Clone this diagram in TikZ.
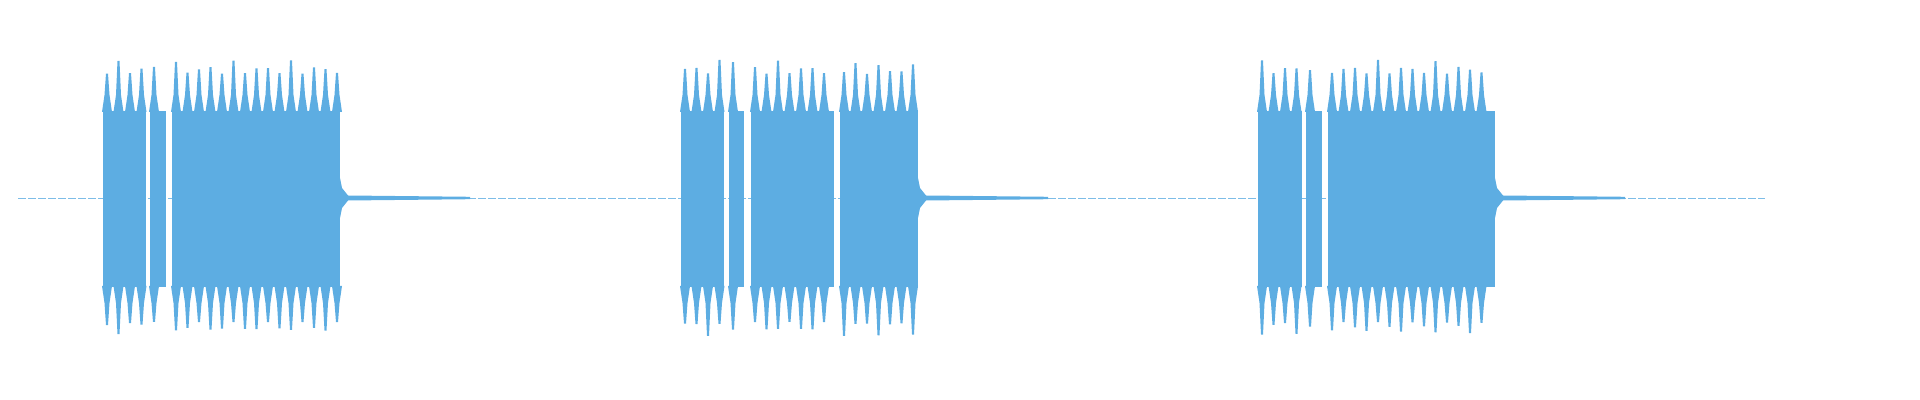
\documentclass[tikz,border=0pt]{standalone}
\definecolor{wave}{RGB}{93,173,226}
\newcommand{\wseg}[2]{%
  \fill[wave] (#1,111) rectangle (#2,287);
  \pgfmathtruncatemacro{\nn}{(#2-#1-7)/11.5}
  \foreach \i in {0,...,\nn}{
    \pgfmathsetmacro{\xx}{#1+4+\i*11.5}
    \pgfmathsetmacro{\tp}{60+14*abs(sin(\i*73+#1))}
    \pgfmathsetmacro{\bt}{336-14*abs(sin(\i*59+#1*3))}
    \fill[wave] (\xx-5,112) -- (\xx-2.5,95) -- (\xx-1,\tp) -- (\xx+1,\tp) -- (\xx+2.5,95) -- (\xx+5,112) -- cycle;
    \fill[wave] (\xx-5,286) -- (\xx-2.5,303) -- (\xx-1,\bt) -- (\xx+1,\bt) -- (\xx+2.5,303) -- (\xx+5,286) -- cycle;
  }}
\newcommand{\wtail}[1]{%
  \fill[wave] (#1,178) -- (#1+2,188) -- (#1+8,195.5) -- (#1+130,196.8) -- (#1+130,199.2) -- (#1+8,200.5) -- (#1+2,208) -- (#1,218) -- cycle;}
\begin{document}
\begin{tikzpicture}[x=0.5pt,y=-0.5pt]
\useasboundingbox (0,0) rectangle (1920,400);
\draw[wave!80,line width=0.4pt,dash pattern=on 4pt off 1pt] (18,198) -- (1765,198);
% burst 1
\wseg{103}{146}\wseg{150}{166}\wseg{172}{340}\wtail{340}
% burst 2
\wseg{681}{724}\wseg{729}{744}\wseg{751}{834}\wseg{840}{918}\wtail{918}
% burst 3
\wseg{1258}{1302}\wseg{1306}{1322}\wseg{1328}{1495}\wtail{1495}
\end{tikzpicture}
\end{document}
